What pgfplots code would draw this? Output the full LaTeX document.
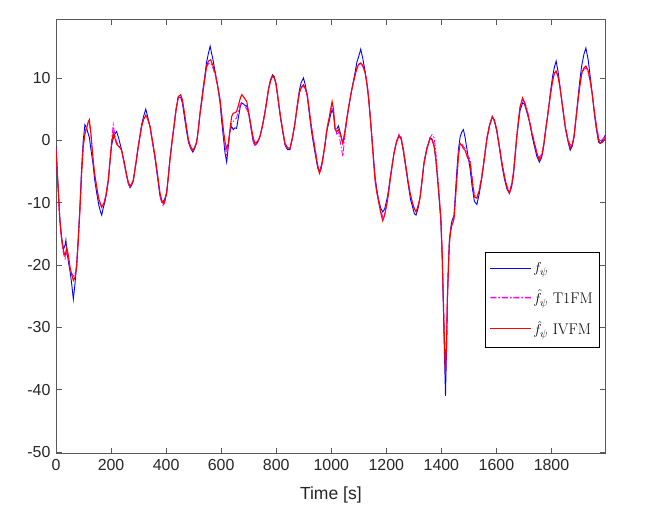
\documentclass[border=0pt]{standalone}
\usepackage{fontspec}
\usepackage{pgfplots}
\pgfplotsset{compat=1.18}
\usepackage{pgfplotstable}
\newfontfamily\arial{Liberation Sans}
\definecolor{axgray}{rgb}{0.15,0.15,0.15}
\definecolor{boxgray}{rgb}{0.35,0.35,0.35}
\definecolor{fblue}{rgb}{0,0,1}
\definecolor{fmag}{rgb}{1,0,1}
\definecolor{fred}{rgb}{1,0,0}

\pgfplotstableread{
t v
0 -1.5
7 -7
14 -12.9
20 -15.5
27 -17.7
33 -18.5
39 -17.2
45 -18.5
51 -20.4
57 -21.5
63 -22.5
69 -22
75 -20.4
81 -16
87 -11.2
93 -5.5
99 -1.0
105 1.0
111 1.9
116 2.8
121 3.3
127 1.0
135 -3.2
141 -5.5
148 -7.5
156 -9.5
166 -10.7
172 -10.3
178 -9.6
184 -8.2
190 -6.4
196 -3.5
202 -0.5
208 1.2
213 0.5
220 -0.6
228 -1.0
238 -1.5
248 -3.5
257 -5.6
263 -6.8
269 -7.3
275 -7.0
281 -6.4
290 -3.8
299 -1.0
305 0.5
311 2.2
318 3.3
326 4.0
333 3.5
342 2.2
351 -0.2
360 -2.6
369 -5.5
378 -8.5
384 -9.6
390 -10.2
396 -9.6
402 -8.5
408 -6.0
414 -3.2
421 -0.5
429 2.2
436 4.8
444 7.0
453 7.3
459 6.5
465 4.9
473 2.4
481 0.05
489 -1.0
497 -1.6
503 -1.2
511 -0.3
517 1.7
523 4.1
529 6.0
535 8.1
541 10.0
547 11.9
554 12.7
562 12.9
570 12.0
578 10.8
587 8.8
596 6.5
602 4.0
608 1.7
614 -0.3
620 -1.3
626 -0.5
632 1.7
638 3.8
644 4.35
650 4.4
656 4.6
664 5.8
670 6.8
675 7.3
681 7.0
687 6.6
693 6.2
702 4.0
711 1.7
717 0.3
723 -0.5
732 -0.2
741 0.6
750 2.3
759 4.35
766 6.3
772 8.1
780 9.6
787 10.3
793 10.0
799 9.2
806 7.0
814 4.35
823 1.8
832 -0.5
841 -1.2
850 -1.3
859 0.5
868 2.7
876 5.2
884 7.6
891 8.5
899 8.9
906 8.3
913 7.3
921 4.5
929 1.7
937 -0.5
945 -2.6
951 -4.2
957 -5.3
963 -4.6
969 -3.2
977 -0.8
984 1.7
992 3.5
998 5.0
1003 6.2
1008 5.0
1014 1.7
1020 1.4
1026 1.7
1034 0.8
1042 -0.5
1049 1.2
1056 3.3
1062 5.0
1068 6.5
1074 8.0
1080 9.2
1087 10.5
1093 11.6
1100 12.2
1107 12.4
1115 12.0
1123 10.8
1129 9.2
1135 7.0
1141 4.0
1147 0.6
1153 -3.0
1159 -6.4
1165 -8.3
1171 -9.6
1179 -11.5
1187 -12.9
1194 -12.0
1202 -10.2
1208 -8.5
1214 -6.4
1221 -4.2
1228 -2.1
1237 -0.3
1246 0.7
1254 0.2
1262 -1.6
1271 -4.2
1280 -6.9
1288 -8.8
1296 -10.2
1302 -11.0
1308 -11.5
1316 -10.5
1323 -9.1
1330 -6.5
1337 -3.7
1347 -1.5
1359 0.3
1366 0.1
1374 -1.0
1380 -3.0
1386 -5.9
1392 -9.0
1398 -12.3
1403 -18
1407 -25.2
1411 -32
1415 -37.6
1419 -32
1422 -25.2
1426 -20
1429 -16.6
1434 -14.5
1438 -13.7
1446 -12.6
1451 -9.5
1456 -6.4
1462 -2.5
1468 -0.5
1474 -0.8
1480 -1.3
1486 -1.6
1495 -2.8
1504 -3.5
1512 -6.5
1520 -9.1
1529 -9.3
1538 -8.0
1547 -5.9
1556 -3.0
1565 0.05
1575 2.3
1585 3.8
1593 3.2
1601 1.7
1610 -0.8
1620 -3.7
1629 -5.8
1638 -7.5
1647 -8.5
1655 -7.3
1662 -5.3
1668 -2.4
1674 0.6
1680 3.2
1686 5.4
1695 6.8
1702 6.0
1710 4.9
1720 3.0
1729 1.1
1738 -0.5
1747 -2.1
1756 -3.2
1764 -2.6
1771 -1.0
1780 2.0
1789 4.9
1797 7.5
1805 9.7
1811 10.8
1817 11.1
1824 10.2
1831 8.4
1841 5.2
1850 2.2
1859 0.2
1868 -1.3
1875 -0.7
1882 0.6
1890 3.8
1898 7.0
1904 9.0
1910 10.8
1918 11.6
1925 11.9
1933 11.2
1940 9.7
1948 7.4
1955 4.9
1963 2.2
1971 0.05
1977 -0.5
1986 -0.3
1995 0.3
}\ivfm

\pgfplotstableread{
t v
0 -1.0
7 -7
14 -12.5
20 -15.5
27 -17.5
33 -16.8
36 -16.0
39 -17.5
45 -19.5
51 -21.0
57 -23.0
63 -25.5
69 -23.0
75 -20.0
81 -15.5
87 -10.5
93 -4.5
99 0.0
105 2.5
111 2.0
116 1.2
121 0.5
127 -1.5
135 -4.0
141 -6.5
148 -8.5
156 -10.5
162 -11.5
166 -12.0
172 -10.8
178 -9.8
184 -8.4
190 -6.5
196 -3.5
202 -0.8
208 0.3
214 1.0
220 1.4
228 0.3
238 -1.5
248 -3.8
257 -5.8
263 -7.0
269 -7.6
275 -7.2
281 -6.5
290 -3.8
299 -1.0
305 0.8
311 2.5
318 3.8
326 5.0
333 3.8
342 2.0
351 -0.5
360 -3.0
369 -6.0
378 -9.0
384 -9.9
390 -9.8
396 -9.3
402 -8.3
408 -5.8
414 -3.0
421 -0.3
429 2.5
436 5.0
444 6.8
453 6.9
459 6.0
465 4.2
473 1.8
481 -0.3
489 -1.3
497 -1.9
503 -1.4
511 -0.3
517 1.7
523 4.3
529 6.5
535 8.5
541 10.5
547 12.5
554 14.0
560 15.1
565 14.0
570 13.0
578 11.0
587 8.8
596 6.0
602 3.0
608 0.5
614 -2.0
620 -3.5
626 -1.0
632 1.5
638 2.2
644 1.7
650 2.0
656 1.9
664 4.0
670 5.5
675 6.0
681 5.8
687 5.6
693 5.5
702 3.8
711 1.2
717 -0.3
723 -0.8
732 -0.4
741 0.6
750 2.3
759 4.5
766 6.5
772 8.3
780 9.8
787 10.5
793 10.2
799 9.0
806 6.8
814 4.0
823 1.5
832 -0.8
841 -1.5
850 -1.5
859 0.3
868 2.7
876 5.5
884 8.0
891 9.3
899 10.0
906 8.8
913 7.0
921 4.0
929 1.2
937 -1.0
945 -3.0
951 -4.5
957 -5.0
963 -4.2
969 -3.0
977 -0.8
984 1.5
992 3.0
998 4.2
1003 4.9
1008 4.2
1014 1.8
1020 1.8
1026 2.3
1034 1.0
1042 -0.5
1049 1.2
1056 3.3
1062 5.0
1068 6.5
1074 8.0
1080 9.4
1087 11.0
1093 12.5
1100 13.5
1107 14.6
1115 13.0
1123 11.0
1129 9.2
1135 7.0
1141 4.0
1147 0.8
1153 -2.5
1159 -5.8
1165 -7.8
1171 -9.3
1179 -10.8
1187 -11.5
1194 -11.0
1202 -9.5
1208 -8.0
1214 -6.0
1221 -4.0
1228 -2.0
1237 -0.2
1246 0.8
1254 0.2
1262 -1.8
1271 -4.5
1280 -7.2
1288 -9.5
1296 -10.8
1302 -11.8
1308 -12.0
1316 -10.8
1323 -9.0
1330 -6.3
1337 -3.5
1347 -1.3
1359 0.4
1366 0.2
1374 -1.0
1380 -3.2
1386 -6.2
1392 -9.5
1398 -13.0
1403 -19
1407 -26.5
1411 -34
1415 -41.0
1419 -33
1422 -25.5
1426 -19.5
1429 -16.0
1434 -14.0
1438 -13.0
1446 -12.0
1451 -8.5
1456 -5.0
1462 -1.5
1468 0.5
1474 1.3
1480 1.7
1486 0.5
1495 -2.0
1504 -4.5
1512 -7.5
1520 -9.8
1529 -10.3
1538 -8.5
1547 -6.0
1556 -3.0
1565 0.2
1575 2.5
1585 3.8
1593 3.0
1601 1.5
1610 -1.0
1620 -4.0
1629 -6.2
1638 -7.8
1647 -8.5
1655 -7.5
1662 -5.5
1668 -2.5
1674 0.5
1680 2.8
1686 4.8
1695 6.0
1702 5.8
1710 4.6
1720 3.0
1729 0.8
1738 -1.0
1747 -2.6
1756 -3.5
1764 -2.8
1771 -1.2
1780 2.0
1789 5.0
1797 8.0
1805 10.5
1811 11.8
1817 12.7
1824 11.0
1831 8.6
1841 5.0
1850 2.0
1859 0.0
1868 -1.6
1875 -1.0
1882 0.5
1890 4.0
1898 7.5
1904 10.0
1910 12.0
1918 13.8
1925 14.8
1933 13.0
1940 10.5
1948 7.5
1955 4.5
1963 1.8
1971 -0.3
1977 -0.5
1986 0.0
1995 0.8
}\fpsi

\pgfplotstableread{
t v
0 -1.2
7 -7.5
14 -13.2
20 -16.0
27 -18.2
33 -19.0
39 -18.0
45 -18.8
51 -20.5
57 -21.3
63 -21.8
69 -21.5
75 -20.0
81 -16.0
87 -11.0
93 -5.0
99 -0.8
105 1.2
111 2.2
116 2.6
121 2.8
127 0.8
135 -3.3
141 -5.8
148 -7.8
156 -9.8
166 -10.8
172 -10.2
178 -9.4
184 -8.0
190 -6.0
196 -3.0
202 0.0
208 2.5
213 1.0
220 -0.3
228 -0.8
238 -1.6
248 -3.8
257 -5.8
263 -7.0
269 -7.4
275 -7.0
281 -6.2
290 -3.6
299 -0.8
305 0.7
311 2.3
318 3.4
326 4.0
333 3.4
342 2.0
351 -0.4
360 -2.8
369 -5.8
378 -8.8
384 -10.0
390 -10.6
396 -9.8
402 -8.4
408 -5.8
414 -3.0
421 -0.4
429 2.3
436 4.8
444 6.8
453 7.1
459 6.3
465 4.8
473 2.3
481 0.0
489 -1.2
497 -1.8
503 -1.3
511 -0.3
517 1.8
523 4.2
529 6.1
535 8.2
541 10.0
547 11.7
554 12.3
562 12.4
570 11.6
578 10.5
587 8.6
596 6.6
602 4.2
608 1.5
614 -1.0
620 -2.3
626 -0.8
632 1.3
638 2.8
644 3.0
650 3.3
656 3.6
664 5.0
670 5.8
675 6.0
681 5.9
687 5.4
693 5.0
702 3.6
711 1.2
717 -0.3
723 -0.9
732 -0.4
741 0.6
750 2.4
759 4.5
766 6.5
772 8.3
780 9.8
787 10.4
793 10.0
799 9.0
806 6.8
814 4.2
823 1.6
832 -0.6
841 -1.3
850 -1.3
859 0.4
868 2.8
876 5.3
884 7.6
891 8.4
899 8.7
906 8.0
913 7.0
921 4.6
929 2.0
937 -0.2
945 -2.3
951 -4.0
957 -5.0
963 -4.5
969 -3.0
977 -0.6
984 1.8
992 3.4
998 4.8
1003 5.6
1008 4.6
1014 2.0
1020 1.0
1026 1.2
1034 -0.5
1042 -2.6
1049 0.5
1056 3.0
1062 5.0
1068 6.6
1074 8.0
1080 9.2
1087 10.5
1093 11.4
1100 12.0
1107 12.3
1115 11.8
1123 10.8
1129 9.6
1135 7.4
1141 4.2
1147 0.8
1153 -2.8
1159 -6.0
1165 -8.0
1171 -9.5
1179 -11.2
1187 -12.3
1194 -11.8
1202 -10.0
1208 -8.4
1214 -6.3
1221 -4.0
1228 -2.0
1237 -0.2
1246 1.0
1254 0.5
1262 -1.3
1271 -4.0
1280 -6.8
1288 -8.8
1296 -10.3
1302 -11.0
1308 -11.3
1316 -10.4
1323 -9.0
1330 -6.4
1337 -3.6
1347 -1.3
1359 0.4
1366 0.9
1374 0.4
1380 -2.0
1386 -5.4
1392 -8.8
1398 -12.3
1403 -18
1407 -25.0
1411 -31.5
1415 -36.8
1419 -31.5
1422 -25.0
1426 -20
1429 -16.4
1434 -14.3
1438 -13.5
1446 -12.3
1451 -9.2
1456 -6.0
1462 -2.2
1468 -0.4
1474 -0.6
1480 -1.0
1486 -1.3
1495 -2.4
1504 -3.0
1512 -6.0
1520 -8.8
1529 -9.2
1538 -7.8
1547 -5.5
1556 -2.6
1565 0.3
1575 2.4
1585 3.7
1593 3.2
1601 1.8
1610 -0.6
1620 -3.5
1629 -5.6
1638 -7.3
1647 -8.2
1655 -7.0
1662 -5.0
1668 -2.2
1674 0.8
1680 3.3
1686 5.3
1695 6.5
1702 6.2
1710 5.2
1720 3.4
1729 1.4
1738 -0.3
1747 -2.0
1756 -2.8
1764 -2.2
1771 -0.8
1780 2.1
1789 5.0
1797 7.6
1805 9.8
1811 10.8
1817 11.0
1824 10.2
1831 8.5
1841 5.4
1850 2.4
1859 0.4
1868 -0.8
1875 -0.4
1882 0.8
1890 4.0
1898 7.0
1904 9.0
1910 10.6
1918 11.4
1925 11.6
1933 11.0
1940 9.6
1948 7.4
1955 5.0
1963 2.5
1971 0.5
1977 -0.2
1986 0.2
1995 0.6
}\tonefm

\begin{document}
\begin{tikzpicture}
\path[use as bounding box] (0,0) rectangle (645bp,515bp);
\begin{axis}[
  at={(56bp,61.7bp)}, anchor=south west,
  scale only axis, width=549.7bp, height=434bp,
  xmin=0, xmax=1997, ymin=-50.2, ymax=19.4,
  xtick={0,200,...,1800}, ytick={-50,-40,...,10},
  /pgf/number format/assume math mode=true,
  /pgf/number format/1000 sep={},
  tick label style={font=\arial\fontsize{16}{19}\selectfont, text=axgray},
  xticklabel style={yshift=-3bp},
  yticklabel style={xshift=-2bp},
  tick align=inside, major tick length=5.5bp,
  every tick/.style={boxgray, line width=0.6bp},
  axis line style={boxgray, line width=0.6bp},
  xlabel={Time [s]},
  xlabel style={font=\arial\fontsize{17.6}{21}\selectfont, text=axgray, at={(axis description cs:0.5,0)}, anchor=base, yshift=-46.5bp},
  legend cell align=left,
  legend style={at={(0.9896,0.4645)}, anchor=north east, line width=0.6bp, fill=white,
    font=\fontsize{15.5}{18}\selectfont, row sep=12bp, inner xsep=5bp, inner ysep=8.5bp},
]
\addplot[draw=fblue, line width=0.9bp,
  legend image code/.code={\fill[fill=fblue, draw=none] (0bp,-0.55bp) rectangle (41bp,0.55bp);}]
  table[x=t,y=v] {\fpsi};
\addlegendentry{$f_\psi$}
\addplot[draw=fmag, line width=0.9bp, dash pattern=on 6bp off 2bp on 1.5bp off 2bp,
  legend image code/.code={\fill[fill=fmag, draw=none]
     (0bp,-0.7bp) rectangle (6bp,0.7bp)
     (8bp,-0.7bp) rectangle (9.8bp,0.7bp)
     (11.5bp,-0.7bp) rectangle (17.5bp,0.7bp)
     (19.5bp,-0.7bp) rectangle (21.3bp,0.7bp)
     (23bp,-0.7bp) rectangle (29bp,0.7bp)
     (31bp,-0.7bp) rectangle (32.8bp,0.7bp)
     (34.5bp,-0.7bp) rectangle (40.5bp,0.7bp);}]
  table[x=t,y=v] {\tonefm};
\addlegendentry{$\hat{f}_\psi$ T1FM}
\addplot[draw=fred, line width=1.1bp,
  legend image code/.code={\fill[fill=fred, draw=none] (0bp,-0.55bp) rectangle (41bp,0.55bp);}]
  table[x=t,y=v] {\ivfm};
\addlegendentry{$\hat{f}_\psi$ IVFM}
\end{axis}
\end{tikzpicture}
\end{document}
